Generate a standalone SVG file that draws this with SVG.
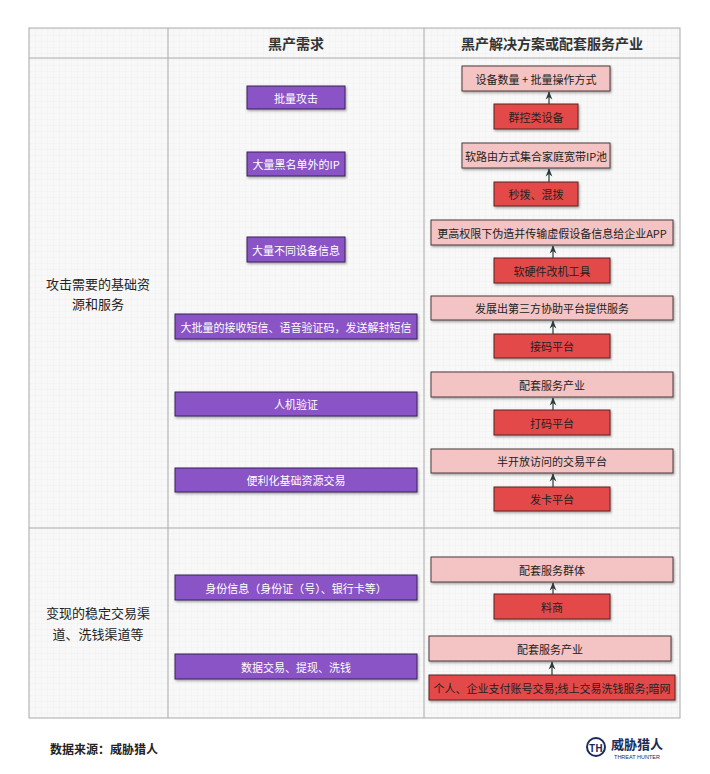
<svg xmlns="http://www.w3.org/2000/svg" width="710" height="774" viewBox="0 0 710 774">
<defs>
<pattern id="grid" width="6" height="6" patternUnits="userSpaceOnUse"><rect width="6" height="6" fill="#f8f8f8"/><path d="M6 0V6H0" fill="none" stroke="#ececec" stroke-width="0.6"/></pattern>
<marker id="ah" viewBox="0 0 10 10" refX="9" refY="5" markerWidth="7" markerHeight="7" orient="auto"><path d="M0 1L10 5L0 9L3 5Z" fill="#2b3a3a"/></marker>
<filter id="sh" x="-5%" y="-20%" width="110%" height="150%"><feDropShadow dx="1" dy="1.5" stdDeviation="0.8" flood-color="#000" flood-opacity="0.35"/></filter>
</defs>
<style>
text{font-family:"Noto Sans CJK SC","Liberation Sans",sans-serif;text-anchor:middle;dominant-baseline:central}
.p rect{fill:#8a52c6;stroke:#3a2456;stroke-width:1;filter:url(#sh)}
.p text{fill:#fff;font-size:11px}
.k rect{fill:#f4c4c4;stroke:#4a3a3a;stroke-width:1;filter:url(#sh)}
.k text{fill:#222;font-size:11px}
.r rect{fill:#e44848;stroke:#5a2020;stroke-width:1;filter:url(#sh)}
.r text{fill:#222;font-size:11px}
.h{font-size:14px;fill:#333;font-weight:bold}
.c{font-size:13px;fill:#222}
#conn line{stroke:#2b3a3a;stroke-width:1.2;marker-end:url(#ah)}
</style>
<rect width="710" height="774" fill="#fff"/>
<g id="table">
<rect x="29" y="28" width="651" height="690" fill="url(#grid)" stroke="#aaa"/>
<line x1="29" y1="58" x2="680" y2="58" stroke="#aaa"/>
<line x1="29" y1="528" x2="680" y2="528" stroke="#aaa"/>
<line x1="168" y1="28" x2="168" y2="718" stroke="#aaa"/>
<line x1="424" y1="28" x2="424" y2="718" stroke="#aaa"/>
<text class="h" x="296" y="43">黑产需求</text>
<text class="h" x="552" y="43">黑产解决方案或配套服务产业</text>
<text class="c" x="98" y="283">攻击需要的基础资</text>
<text class="c" x="98" y="303">源和服务</text>
<text class="c" x="98" y="612">变现的稳定交易渠</text>
<text class="c" x="98" y="633">道、洗钱渠道等</text>
</g>
<g id="n1" class="p"><rect x="247" y="86" width="98" height="23"/><text x="296" y="97.5">批量攻击</text></g>
<g id="n2" class="p"><rect x="247" y="152" width="98" height="24"/><text x="296" y="164">大量黑名单外的IP</text></g>
<g id="n3" class="p"><rect x="247" y="237" width="98" height="25"/><text x="296" y="249.5">大量不同设备信息</text></g>
<g id="n4" class="p"><rect x="175" y="314" width="242" height="25"/><text x="296" y="326.5">大批量的接收短信、语音验证码，发送解封短信</text></g>
<g id="n5" class="p"><rect x="175" y="392" width="242" height="24"/><text x="296" y="404">人机验证</text></g>
<g id="n6" class="p"><rect x="175" y="468" width="242" height="24"/><text x="296" y="480">便利化基础资源交易</text></g>
<g id="n7" class="p"><rect x="175" y="575" width="242" height="25"/><text x="296" y="587.5">身份信息（身份证（号）、银行卡等）</text></g>
<g id="n8" class="p"><rect x="175" y="654" width="242" height="25"/><text x="296" y="666.5">数据交易、提现、洗钱</text></g>
<g id="s1" class="k"><rect x="462" y="66" width="148" height="25"/><text x="536" y="78.5">设备数量 + 批量操作方式</text></g>
<g id="s2" class="r"><rect x="494" y="104" width="84" height="25"/><text x="536" y="116.5">群控类设备</text></g>
<g id="s3" class="k"><rect x="462" y="143" width="148" height="25"/><text x="536" y="155.5">软路由方式集合家庭宽带IP池</text></g>
<g id="s4" class="r"><rect x="494" y="182" width="84" height="24"/><text x="536" y="194">秒拨、混拨</text></g>
<g id="s5" class="k"><rect x="431" y="220" width="242" height="25"/><text x="552" y="232.5">更高权限下伪造并传输虚假设备信息给企业APP</text></g>
<g id="s6" class="r"><rect x="494" y="258" width="116" height="25"/><text x="552" y="270.5">软硬件改机工具</text></g>
<g id="s7" class="k"><rect x="431" y="296" width="242" height="24"/><text x="552" y="308">发展出第三方协助平台提供服务</text></g>
<g id="s8" class="r"><rect x="494" y="334" width="116" height="24"/><text x="552" y="346">接码平台</text></g>
<g id="s9" class="k"><rect x="431" y="372" width="242" height="25"/><text x="552" y="384.5">配套服务产业</text></g>
<g id="s10" class="r"><rect x="494" y="410" width="116" height="25"/><text x="552" y="422.5">打码平台</text></g>
<g id="s11" class="k"><rect x="431" y="449" width="242" height="24"/><text x="552" y="461">半开放访问的交易平台</text></g>
<g id="s12" class="r"><rect x="494" y="487" width="116" height="24"/><text x="552" y="499">发卡平台</text></g>
<g id="s13" class="k"><rect x="431" y="557" width="242" height="25"/><text x="552" y="569.5">配套服务群体</text></g>
<g id="s14" class="r"><rect x="494" y="594" width="116" height="25"/><text x="552" y="606.5">料商</text></g>
<g id="s15" class="k"><rect x="429" y="636" width="242" height="25"/><text x="550" y="648.5">配套服务产业</text></g>
<g id="s16" class="r"><rect x="429" y="675" width="246" height="25"/><text x="552" y="687.5">个人、企业支付账号交易;线上交易洗钱服务;暗网</text></g>
<g id="conn">
<line x1="549" y1="104" x2="549" y2="92"/>
<line x1="549" y1="182" x2="549" y2="169"/>
<line x1="553" y1="258" x2="553" y2="246"/>
<line x1="553" y1="334" x2="553" y2="321"/>
<line x1="553" y1="410" x2="553" y2="398"/>
<line x1="553" y1="487" x2="553" y2="474"/>
<line x1="553" y1="594" x2="553" y2="583"/>
<line x1="552" y1="675" x2="552" y2="662"/>
</g>
<g id="footer">
<text x="104" y="748" style="font-size:12px;fill:#222;font-weight:bold">数据来源：威胁猎人</text>
<circle cx="596" cy="747" r="9" fill="none" stroke="#1c2a5a" stroke-width="2"/>
<text x="596" y="747" style="font-size:10px;fill:#1c2a5a;font-weight:bold">TH</text>
<text x="637" y="743" style="font-size:13px;fill:#1c2a5a;font-weight:bold">威胁猎人</text>
<text x="637" y="757" style="font-size:5.5px;fill:#1c2a5a;font-family:'Liberation Sans',sans-serif">THREAT HUNTER</text>
</g>
</svg>
